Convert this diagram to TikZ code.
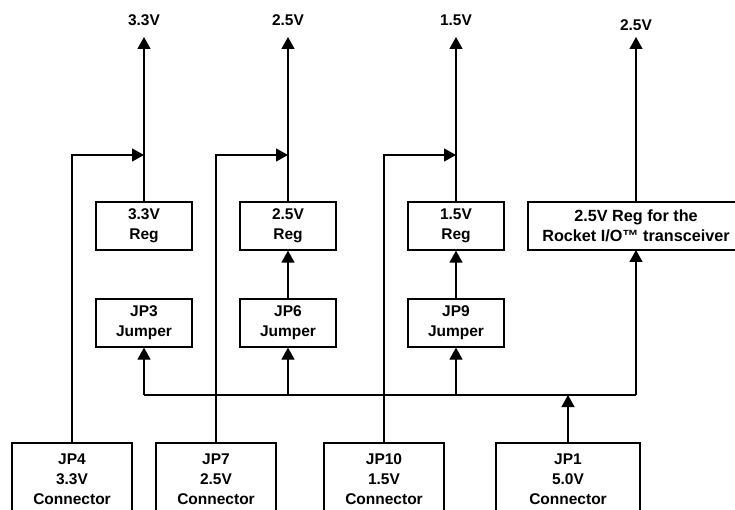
\documentclass[tikz,border=0pt]{standalone}
\usepackage{fontspec}
\setmainfont{Liberation Sans}
\usetikzlibrary{arrows.meta}
\begin{document}
\begin{tikzpicture}[x=1pt,y=-1pt,
  every node/.style={font=\bfseries\fontsize{15.5}{20}\selectfont, align=center},
  box/.style={draw, line width=1.2pt, inner sep=0pt, minimum height=48pt, minimum width=96pt},
  conbox/.style={draw, line width=1.2pt, inner sep=0pt, minimum height=72pt, minimum width=120pt},
  lbl/.style={inner sep=0pt},
  wire/.style={line width=1.2pt},
  arr/.style={wire, -{Triangle[length=12pt,width=13pt]}}
]
\path[use as bounding box, clip] (0,0) rectangle (735,510);
% output labels
\node[lbl] (o33) at (144,20) {3.3V};
\node[lbl] (o25) at (288,20) {2.5V};
\node[lbl] (o15) at (456,20) {1.5V};
\node[lbl] (orio) at (636,25) {2.5V};
\coordinate (t33) at (144,37);
\coordinate (t25) at (288,37);
\coordinate (t15) at (456,37);
\coordinate (trio) at (636,37);
% regulators
\node[box] (reg33) at (144,226) {3.3V\\Reg};
\node[box] (reg25) at (288,226) {2.5V\\Reg};
\node[box] (reg15) at (456,226) {1.5V\\Reg};
\node[box, minimum width=216pt, font=\bfseries\fontsize{16.2}{20}\selectfont] (regrio) at (636,226) {2.5V Reg for the\\Rocket I/O\texttrademark{} transceiver};
% jumpers
\node[box] (jp3) at (144,323) {JP3\\Jumper};
\node[box] (jp6) at (288,323) {JP6\\Jumper};
\node[box] (jp9) at (456,323) {JP9\\Jumper};
% connectors
\node[conbox] (jp4) at (72,479) {JP4\\3.3V\\Connector};
\node[conbox] (jp7) at (216,479) {JP7\\2.5V\\Connector};
\node[conbox] (jp10) at (384,479) {JP10\\1.5V\\Connector};
\node[conbox, minimum width=144pt] (jp1) at (568,479) {JP1\\5.0V\\Connector};
% junction points
\coordinate (j33) at (144,155);
\coordinate (j25) at (288,155);
\coordinate (j15) at (456,155);
\coordinate (busL) at (144,395);
\coordinate (busR) at (636,395);
\coordinate (bus1) at (568,395);
\coordinate (rioin) at (636,250);
\coordinate (rioout) at (636,202);
% outputs
\draw[arr] (reg33.north) -- (t33);
\draw[arr] (reg25.north) -- (t25);
\draw[arr] (reg15.north) -- (t15);
\draw[arr] (rioout) -- (trio);
% external connectors
\draw[arr] (jp4.north) |- (j33);
\draw[arr] (jp7.north) |- (j25);
\draw[arr] (jp10.north) |- (j15);
% 5V bus
\draw[wire] (busL) -- (busR);
\draw[arr] (jp1.north) -- (bus1);
\draw[arr] (busL) -- (jp3.south);
\draw[arr] (jp6.south |- busL) -- (jp6.south);
\draw[arr] (jp9.south |- busL) -- (jp9.south);
\draw[arr] (busR) -- (rioin);
% jumper to regulator
\draw[arr] (jp6.north) -- (reg25.south);
\draw[arr] (jp9.north) -- (reg15.south);
\end{tikzpicture}
\end{document}
